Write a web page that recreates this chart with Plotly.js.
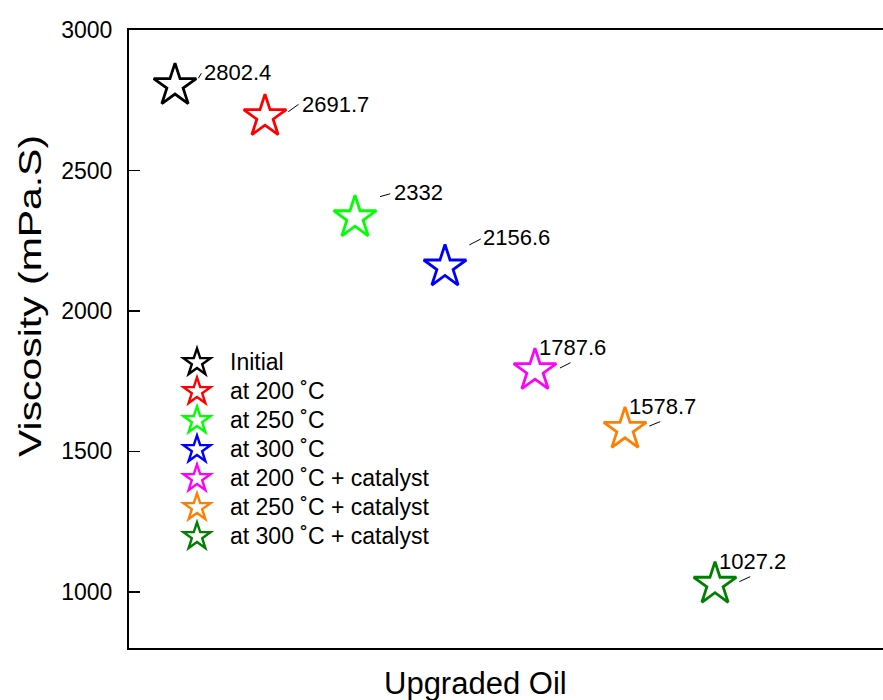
<!DOCTYPE html>
<html>
<head>
<meta charset="utf-8">
<script src="https://cdn.plot.ly/plotly-3.0.1.min.js"></script>
<style>
html, body { margin: 0; padding: 0; overflow: hidden; background: #fff; }
#chart { width: 960px; height: 700px; }
</style>
</head>
<body>
<div id="chart"></div>
<script>
// ---- data ----
const categories = ['Initial', 'at 200 ˚C', 'at 250 ˚C', 'at 300 ˚C',
  'at 200 ˚C + catalyst', 'at 250 ˚C + catalyst', 'at 300 ˚C + catalyst'];
const samplePos = [1, 2, 3, 4, 5, 6, 7];
const viscosity = [2802.4, 2691.7, 2332, 2156.6, 1787.6, 1578.7, 1027.2];
const valueLabels = ['2802.4', '2691.7', '2332', '2156.6', '1787.6', '1578.7', '1027.2'];
const yTicks = [1000, 1500, 2000, 2500, 3000];
const xTitle = 'Upgraded Oil';
const yTitle = 'Viscosity (mPa.S)';

// ---- style ----
const colors = ['#000000', '#ff0000', '#00ff00', '#0000ff', '#ff00ff', '#ff8000', '#008000'];
const labelOffset = [[62, -13], [70, -12], [63, -25], [71.5, -29], [37, -23.5], [37, -22.5], [37, -23]];
const leaderHead = [[23.3, -7.2], [23.3, -4.9], [25, -21], [24.3, -22], [25, -2.6], [24.3, -3.2], [24.3, -2.5]];
const leaderTail = [[27.3, -13.8], [35, -13.3], [36.7, -24.3], [37.3, -28.7], [37, -8.6], [36.7, -8.2], [36.7, -8.2]];
const FONT = 'Arial, "Liberation Sans", Helvetica, sans-serif';

const traces = categories.map((name, i) => ({
  type: 'scatter',
  mode: 'markers',
  name: '<span style="font-size:23px">' + name + '</span>',
  x: [samplePos[i]],
  y: [viscosity[i]],
  marker: { symbol: 'star-open', size: 32, color: colors[i], line: { width: 2.8, color: colors[i] } },
  hoverinfo: 'skip'
}));

const annotations = [];
categories.forEach((name, i) => {
  annotations.push({
    x: samplePos[i], y: viscosity[i], xref: 'x', yref: 'y',
    text: valueLabels[i], showarrow: false,
    xanchor: 'center', yanchor: 'middle',
    xshift: labelOffset[i][0], yshift: -labelOffset[i][1],
    font: { family: FONT, size: 22, color: '#000' }
  });
  annotations.push({
    x: samplePos[i], y: viscosity[i], xref: 'x', yref: 'y',
    text: '', showarrow: true, arrowhead: 0, arrowwidth: 1, arrowcolor: '#000',
    standoff: 0, startstandoff: 0,
    xshift: leaderHead[i][0], yshift: -leaderHead[i][1],
    ax: leaderTail[i][0] - leaderHead[i][0], ay: leaderTail[i][1] - leaderHead[i][1],
    font: { size: 1 }
  });
});

// axis titles
annotations.push({
  xref: 'paper', yref: 'paper',
  x: (475 - 129) / 831, y: (648 - 683) / 618,
  xanchor: 'center', yanchor: 'middle', showarrow: false,
  text: xTitle, font: { family: FONT, size: 31, color: '#000' }
});
annotations.push({
  xref: 'paper', yref: 'paper',
  x: (30 - 129) / 831, y: (648 - 296) / 618,
  xanchor: 'center', yanchor: 'middle', showarrow: false, textangle: -90,
  text: yTitle, font: { family: FONT, size: 31, color: '#000' }
});

const layout = {
  width: 960, height: 700,
  margin: { l: 129, r: 0, t: 30, b: 52, pad: 0 },
  paper_bgcolor: '#fff', plot_bgcolor: '#fff',
  font: { family: FONT, color: '#000' },
  showlegend: true,
  legend: {
    x: (164 - 129) / 831, y: (648 - 343) / 618, xanchor: 'left', yanchor: 'top',
    bgcolor: 'rgba(0,0,0,0)', borderwidth: 0,
    font: { family: FONT, size: 20, color: '#000' },
    itemwidth: 56
  },
  xaxis: {
    range: [1 - 46 / 90, 1 - 46 / 90 + 831 / 90],
    showticklabels: false, ticks: '', showgrid: false, zeroline: false,
    showline: true, mirror: true, linecolor: '#000', linewidth: 2
  },
  yaxis: {
    range: [800, 3000], tickvals: yTicks, ticktext: yTicks.map(String),
    ticks: 'inside', ticklen: 11, tickwidth: 1.5, tickcolor: '#000',
    showgrid: false, zeroline: false,
    showline: true, mirror: true, linecolor: '#000', linewidth: 2,
    tickfont: { family: FONT, size: 23, color: '#000' },
    ticklabelstandoff: 10
  },
  annotations: annotations
};

Plotly.newPlot('chart', traces, layout, { displayModeBar: false, staticPlot: true }).then(() => {
  // the reference y title is drawn elongated along its baseline
  document.querySelectorAll('.annotation-text').forEach(t => {
    if (t.textContent === yTitle) {
      t.setAttribute('textLength', '322');
      t.setAttribute('lengthAdjust', 'spacingAndGlyphs');
    }
  });
  // legend symbols in the reference are larger than Plotly's 16px legend cap
  document.querySelectorAll('.legend .legendpoints path.scatterpts').forEach(p => {
    const tr = p.getAttribute('transform') || '';
    p.setAttribute('transform', tr + ' scale(1.27)');
    p.style.strokeWidth = '1.9px';
  });
});
</script>
</body>
</html>
